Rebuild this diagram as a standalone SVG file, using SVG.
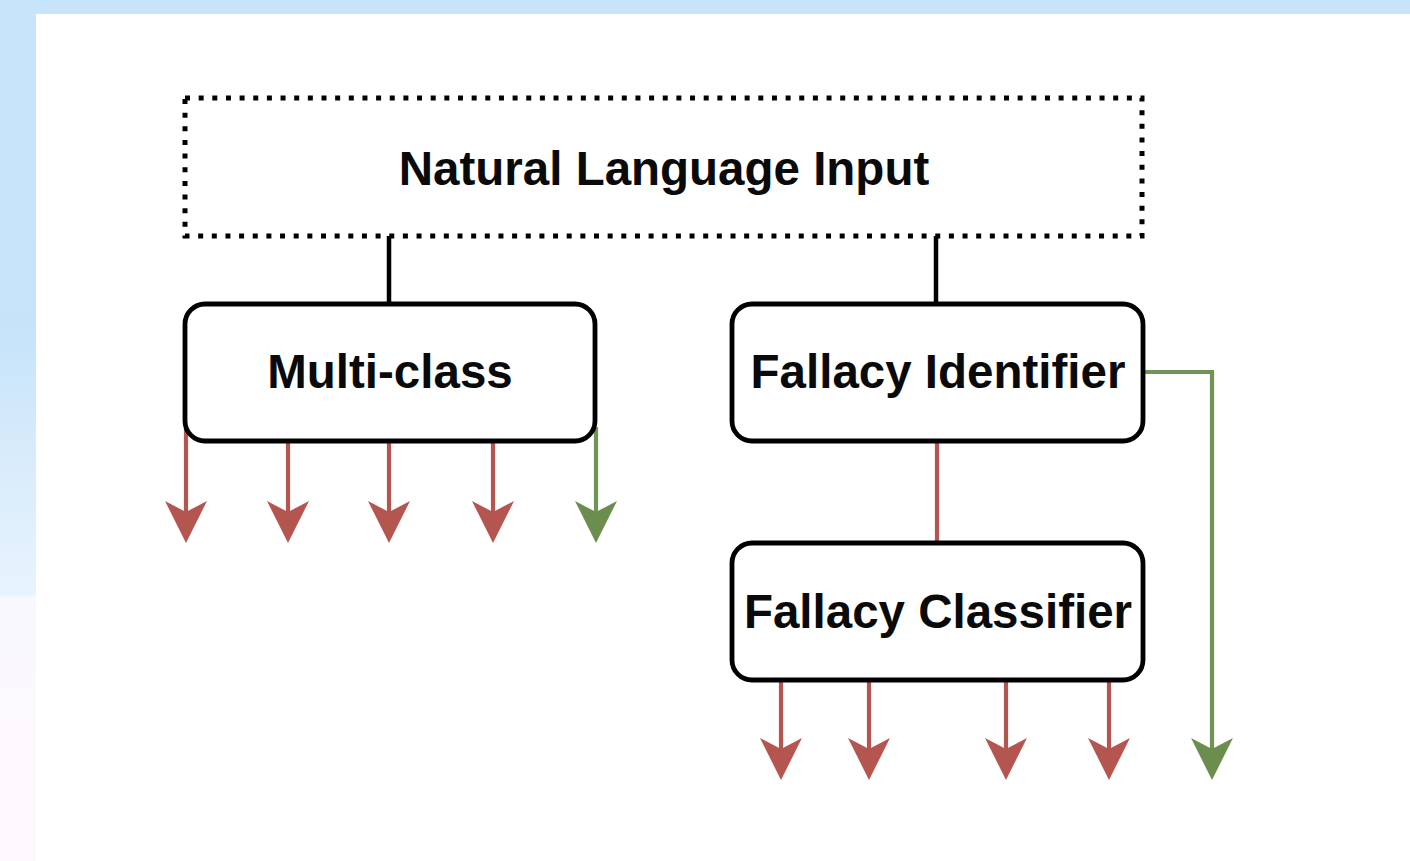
<svg xmlns="http://www.w3.org/2000/svg" width="1410" height="861" viewBox="0 0 1410 861">
<style>
.box{fill:#fff;stroke:#000;stroke-width:4.8}
.lbl{font-family:"Liberation Sans",Arial,sans-serif;font-weight:bold;font-size:47.5px;fill:#0a0a0a;text-anchor:middle}
.blk{stroke:#000;stroke-width:4.5;fill:none}
.red{stroke:#b5554f;stroke-width:4.2;fill:none}
.grn{stroke:#6f9455;stroke-width:4.2;fill:none}
</style>
<defs>
<linearGradient id="side" x1="0" y1="0" x2="0" y2="1">
<stop offset="0" stop-color="#c7e4fa"/>
<stop offset="0.38" stop-color="#c6e3fa"/>
<stop offset="0.55" stop-color="#daecfb"/>
<stop offset="0.69" stop-color="#e7f4fd"/>
<stop offset="0.695" stop-color="#f8f8fd"/>
<stop offset="0.83" stop-color="#fcf8fe"/>
<stop offset="1" stop-color="#fdf8fe"/>
</linearGradient>
<marker id="ar" viewBox="-42 -21 42 42" refX="-31" refY="0" markerWidth="42" markerHeight="42" markerUnits="userSpaceOnUse" orient="auto">
<path d="M0 0 L-42 -21 L-31 0 L-42 21 Z" fill="#b5554f"/>
</marker>
<marker id="ag" viewBox="-42 -21 42 42" refX="-31" refY="0" markerWidth="42" markerHeight="42" markerUnits="userSpaceOnUse" orient="auto">
<path d="M0 0 L-42 -21 L-31 0 L-42 21 Z" fill="#6b8e4e"/>
</marker>
</defs>
<rect x="0" y="0" width="1410" height="861" fill="#fff"/>
<rect x="0" y="0" width="1410" height="14" fill="#c7e4fa"/>
<rect x="0" y="0" width="36" height="861" fill="url(#side)"/>
<g id="connectors">
<path class="blk" d="M389 236 V304"/>
<path class="blk" d="M936 236 V304"/>
<path class="red" d="M937 441 V543"/>
<path class="red" d="M186 425 V512" marker-end="url(#ar)"/>
<path class="red" d="M288 441 V512" marker-end="url(#ar)"/>
<path class="red" d="M389 441 V512" marker-end="url(#ar)"/>
<path class="red" d="M493 441 V512" marker-end="url(#ar)"/>
<path class="grn" d="M596 427 V512" marker-end="url(#ag)"/>
<path class="red" d="M781 680 V749" marker-end="url(#ar)"/>
<path class="red" d="M869 680 V749" marker-end="url(#ar)"/>
<path class="red" d="M1006 680 V749" marker-end="url(#ar)"/>
<path class="red" d="M1109 680 V749" marker-end="url(#ar)"/>
<path class="grn" d="M1144 372 H1212 V749" marker-end="url(#ag)"/>
</g>
<g id="natural-language-input">
<rect x="185" y="98" width="957" height="138" fill="#fff" stroke="#000" stroke-width="5" stroke-dasharray="5 8.65"/>
<text class="lbl" x="664" y="185">Natural Language Input</text>
</g>
<g id="multi-class">
<rect class="box" x="185" y="304" width="410" height="137" rx="20"/>
<text class="lbl" x="390" y="388">Multi-class</text>
</g>
<g id="fallacy-identifier">
<rect class="box" x="732" y="304" width="411" height="137" rx="20"/>
<text class="lbl" x="938" y="388">Fallacy Identifier</text>
</g>
<g id="fallacy-classifier">
<rect class="box" x="732" y="543" width="411" height="137" rx="20"/>
<text class="lbl" x="938" y="628">Fallacy Classifier</text>
</g>
</svg>
